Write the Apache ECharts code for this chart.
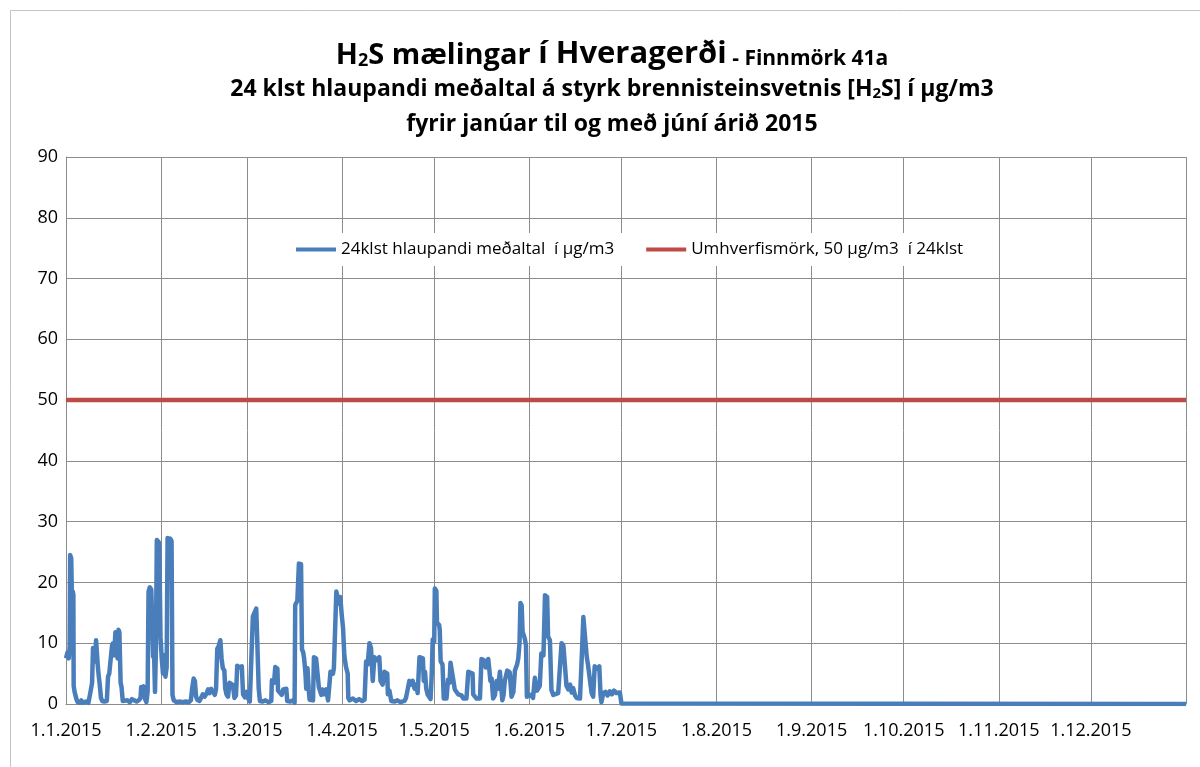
<!DOCTYPE html>
<html>
<head>
<meta charset="utf-8">
<script src="https://cdn.jsdelivr.net/npm/echarts@6/dist/echarts.min.js"></script>
<style>
  html, body { margin: 0; padding: 0; background: #fff; }
  #main { width: 1200px; height: 767px; }
</style>
</head>
<body>
<div id="main"></div>
<script>
// x = days since 1.1.2015 00:00, y = H2S 24h running mean (µg/m3)
var janPts = [[0,7.5],[0.5,8.5],[0.9,7.5],[1.2,9.5],[1.35,24.5],[1.7,24],[1.95,17],[2.2,18.5],[2.4,18],[2.5,3],[2.8,2],[3.1,2.2],[3.4,0.8],[3.8,0.3],[4.5,0.2],[5,0.6],[5.5,0.2],[6.5,0.4],[7.3,0.2],[7.8,1.5],[8.2,2.6],[8.5,3.5],[8.8,9.2],[9.2,9.5],[9.5,7],[9.8,10.5],[10.1,10.3],[10.4,6],[10.7,4.5],[11.0,3.2],[11.4,1],[11.8,0.5],[12.5,0.4],[13.3,0.5],[13.7,4.5],[14.1,5],[14.7,4.8],[15.0,9.6],[15.3,10],[15.7,8],[16.1,11.8],[16.5,12],[16.8,7.5],[17.1,12.2],[17.4,11.8],[17.8,3.5],[18.1,2.8],[18.5,0.5],[19,0.3],[20,0.6],[20.8,0.3],[21.5,0.8],[22.1,0.5],[23,0.4],[23.7,0.6],[24.3,1],[24.5,2.8],[24.9,2.2],[25.3,2.9],[25.8,0.8],[26.2,0.3],[26.6,2],[26.9,18.5],[27.3,19.2],[27.8,18.8],[28.1,18.5],[28.4,7.8],[28.7,8.5],[29.0,2],[29.3,9],[29.6,27],[30.0,26.8],[30.4,26.5],[30.8,11]];
var febPts = [[31.2,7.5],[31.6,5],[32.0,8],[32.4,4.5],[32.8,6],[33.1,27.3],[33.5,27.5],[34.0,27.2],[34.4,26.8],[34.7,1.5],[35.1,0.6],[36,0.3],[37,0.4],[38,0.3],[39,0.4],[40,0.3],[40.7,0.6],[41.1,2.5],[41.6,4.2],[42.0,3.8],[42.4,1.2],[42.8,0.7],[43.5,0.5],[44.1,0.8],[44.6,1.6],[45.2,1.2],[45.8,1.7],[46.3,2.4],[46.8,1.8],[47.3,2.5],[47.9,2.2],[48.5,1.5],[48.9,2.5],[49.3,9.1],[49.8,9.6],[50.3,10.5],[50.7,7.5],[51.1,5.9],[51.6,5.5],[51.9,2.5],[52.3,1.6],[52.8,1.2],[53.3,3.5],[53.9,3.4],[54.4,3.1],[54.9,1],[55.4,1.4],[55.8,6.3],[56.5,6.0],[57.3,6.2],[57.7,1.6],[58.3,1.1],[58.8,2.0]];
var marPts = [[59.3,1.0],[59.9,0.4],[60.5,0.5],[60.9,14.4],[61.5,14.6],[62.0,15.7],[62.6,15.5],[62.8,2.6],[63.2,0.5],[64,0.4],[65,0.6],[66,0.3],[66.9,0.5],[67.1,3.9],[67.8,3.5],[68.2,6.1],[68.9,5.8],[69.1,2.2],[69.6,2.4],[70.3,1.5],[70.8,2.4],[71.4,2.2],[71.8,2.5],[72.1,0.5],[73,0.4],[74,0.6],[74.5,0.2],[74.7,16.3],[75.4,17],[75.9,23.1],[76.6,23.0],[76.9,9],[77.3,8.5],[77.6,7.5],[78.0,5.3],[78.3,2.5],[78.7,5.9],[79.1,2.4],[79.4,0.7],[80.5,0.6],[80.8,7.7],[81.5,7.5],[82.1,7.7],[82.4,2.8],[82.7,2.5],[83.2,1.5],[83.6,2.4],[84.2,1.6],[84.8,2.4],[85.4,0.6],[85.9,0.8],[86.2,5.3],[87.0,5.0],[87.3,5.9],[87.9,6.2],[88.1,18.5],[88.6,18.2],[89.0,16.5],[89.4,17.6],[89.8,15]];
var aprPts = [[90.3,12.4],[90.7,8],[91.2,6.2],[91.8,5],[92.0,1],[92.4,0.6],[93.5,0.9],[94.5,0.5],[95.5,0.8],[96.5,0.5],[97.3,0.7],[97.8,7.0],[98.3,6.5],[98.9,10.0],[99.4,9.2],[99.97,3.8],[100.5,7.7],[101.3,7.2],[102.1,7.7],[102.5,3.8],[103.2,3.2],[103.8,5.3],[104.7,5.0],[104.9,1.6],[105.4,2.2],[106,0.5],[107,0.4],[108,0.6],[109,0.3],[110.3,0.5],[110.8,1],[111.9,3.8],[112.5,3.2],[113,3.8],[113.6,2.5],[114.1,3.2],[114.6,1.8],[115.2,7.7],[116.3,7.5],[116.6,3.8],[117.0,5.3],[117.4,2.5],[117.9,1.5],[118.8,0.8],[119.2,5],[119.5,10.6],[120.0,10.2]];
var mayPts = [[120.2,19.0],[120.7,18.6],[120.9,13.4],[121.6,13.0],[121.8,12.2],[122.1,7.0],[122.7,6.5],[122.9,3.8],[123.1,0.9],[124,0.9],[124.5,4.0],[125.0,3.5],[125.3,6.8],[125.9,6.5],[126.2,4.0],[126.7,2.4],[127.3,2.2],[127.8,1.6],[128.9,1.4],[129.5,0.9],[130.5,0.9],[131.1,5.3],[132.5,5.0],[132.7,1.6],[133.8,0.9],[134.9,0.9],[135.4,7.4],[136.2,7.2],[136.8,6.0],[137.6,7.4],[137.9,6],[138.3,3.8],[138.7,4.2],[139.2,0.9],[139.8,1.5],[140.3,3.8],[140.8,2.5],[141.4,5.3],[141.9,5.0],[142.2,0.6],[142.6,1.5],[143.0,3.8],[143.8,5.5],[144.6,5.2],[145.2,1.2],[145.8,2.0],[146.3,5.5],[147.0,6.5],[147.4,7.5],[147.8,10],[148.1,16.6],[148.5,16.2],[148.8,11.9],[149.5,10.8],[149.9,9.7],[150.2,1.2]];
var junPts = [[150.7,1.2],[151.5,1.5],[152.2,1.0],[152.8,4.3],[153.5,2.2],[154.4,3.0],[154.9,8.3],[155.6,8.0],[156.1,17.9],[156.8,17.6],[157.1,11.1],[157.7,10.5],[158.2,2.3],[158.8,1.5],[159.3,1.2],[160.4,1.8],[161.0,1.5],[161.5,10.0],[162.1,9.6],[162.6,9.8],[163.1,3.0],[163.7,2.4],[164.3,3.2],[164.8,1.9],[165.3,2.6],[165.9,1.4],[166.4,1.0],[167.5,0.9],[168.0,6.7],[168.6,14.3],[169.1,14.0],[169.7,7.8],[170.1,6.5],[170.5,6.2],[171.3,1.8],[171.8,1.2],[172.3,6.2],[173.2,5.8],[173.8,6.2],[174.2,1.5],[174.5,0.3],[175.1,1.8],[175.8,2.0],[176.5,1.4],[177.2,2.1],[177.9,1.6],[178.6,2.2],[179.4,1.8],[180.0,2.0],[180.5,1.9],[181.0,0.1]];
var julDecPts = [[181.3,0],[365,0]];

var limitValue = 50;
var yearDays = 365;
var monthStartDays = [0,31,59,90,120,151,181,212,243,273,304,334];
var monthLabels = ['1.1.2015','1.2.2015','1.3.2015','1.4.2015','1.5.2015','1.6.2015','1.7.2015','1.8.2015','1.9.2015','1.10.2015','1.11.2015','1.12.2015'];

var nameAvg = '24klst hlaupandi meðaltal  í µg/m3';
var nameLimit = 'Umhverfismörk, 50 µg/m3  í 24klst';

var FONT = '"Open Sans", "Liberation Sans", sans-serif';

var h2sData = [].concat(janPts, febPts, marPts, aprPts, mayPts, junPts, julDecPts);
var limitData = [[0, limitValue], [yearDays, limitValue]];

var myChart = echarts.init(document.getElementById('main'), null, { renderer: 'canvas' });

var option = {
  backgroundColor: '#fff',
  animation: false,
  graphic: [
    {
      type: 'rect',
      silent: true,
      z: -10,
      shape: { x: 10.5, y: 10.5, width: 1300, height: 900 },
      style: { fill: 'none', stroke: '#c4c4c4', lineWidth: 1 }
    }
  ],
  title: [
    {
      text: '{a|H}{s|2}{a|S mælingar }{b|í Hveragerði}{c| - Finnmörk 41a}',
      left: 612,
      top: 32,
      textAlign: 'center',
      padding: 0,
      textStyle: {
        rich: {
          a: { fontFamily: FONT, fontWeight: 'bold', fontSize: 29, lineHeight: 37, verticalAlign: 'bottom', color: '#000' },
          s: { fontFamily: FONT, fontWeight: 'bold', fontSize: 18, lineHeight: 21, verticalAlign: 'bottom', color: '#000' },
          b: { fontFamily: FONT, fontWeight: 'bold', fontSize: 31, lineHeight: 38, verticalAlign: 'bottom', color: '#000' },
          c: { fontFamily: FONT, fontWeight: 'bold', fontSize: 21, lineHeight: 31, verticalAlign: 'bottom', color: '#000' }
        }
      }
    },
    {
      text: '{t|24 klst hlaupandi meðaltal á styrk brennisteinsvetnis [H}{s|2}{t|S] í µg/m3}',
      left: 612,
      top: 71,
      textAlign: 'center',
      padding: 0,
      textStyle: {
        rich: {
          t: { fontFamily: FONT, fontWeight: 'bold', fontSize: 23, lineHeight: 30, verticalAlign: 'bottom', color: '#000' },
          s: { fontFamily: FONT, fontWeight: 'bold', fontSize: 15, lineHeight: 17, verticalAlign: 'bottom', color: '#000' }
        }
      }
    },
    {
      text: 'fyrir janúar til og með júní árið 2015',
      left: 612,
      top: 109,
      textAlign: 'center',
      padding: 0,
      textStyle: { fontFamily: FONT, fontWeight: 'bold', fontSize: 23, lineHeight: 30, color: '#000' }
    }
  ],
  legend: {
    data: [nameAvg, nameLimit],
    left: 291,
    top: 233,
    padding: [8, 5, 8, 5],
    backgroundColor: '#fff',
    icon: 'rect',
    itemWidth: 40,
    itemHeight: 4,
    itemGap: 32,
    textStyle: { fontFamily: FONT, fontSize: 17, color: '#000' }
  },
  grid: {
    left: 66,
    right: 14,
    top: 157,
    bottom: 63,
    containLabel: false
  },
  xAxis: {
    type: 'value',
    min: 0,
    max: yearDays,
    axisLine: { show: true, lineStyle: { color: '#8c8c8c', width: 1 } },
    axisTick: { show: false, customValues: monthStartDays.concat([yearDays]) },
    splitLine: { show: true, lineStyle: { color: '#8c8c8c', width: 1 } },
    axisLabel: {
      customValues: monthStartDays,
      margin: 18,
      fontFamily: FONT,
      fontSize: 18,
      color: '#000',
      formatter: function (v) {
        var i = monthStartDays.indexOf(Math.round(v));
        return i >= 0 ? monthLabels[i] : '';
      }
    }
  },
  yAxis: {
    type: 'value',
    min: 0,
    max: 90,
    interval: 10,
    axisLine: { show: true, lineStyle: { color: '#8c8c8c', width: 1 } },
    axisTick: { show: false },
    splitLine: { show: true, lineStyle: { color: '#8c8c8c', width: 1 } },
    axisLabel: { margin: 8, fontFamily: FONT, fontSize: 18, color: '#000' }
  },
  series: [
    {
      name: nameAvg,
      type: 'line',
      data: h2sData,
      symbol: 'none',
      smooth: false,
      color: '#4a7ebb',
      lineStyle: { color: '#4a7ebb', width: 4.5, join: 'round' },
      z: 3
    },
    {
      name: nameLimit,
      type: 'line',
      data: limitData,
      symbol: 'none',
      color: '#be4b48',
      lineStyle: { color: '#be4b48', width: 4.5 },
      z: 2
    }
  ]
};

myChart.setOption(option);
</script>
</body>
</html>
